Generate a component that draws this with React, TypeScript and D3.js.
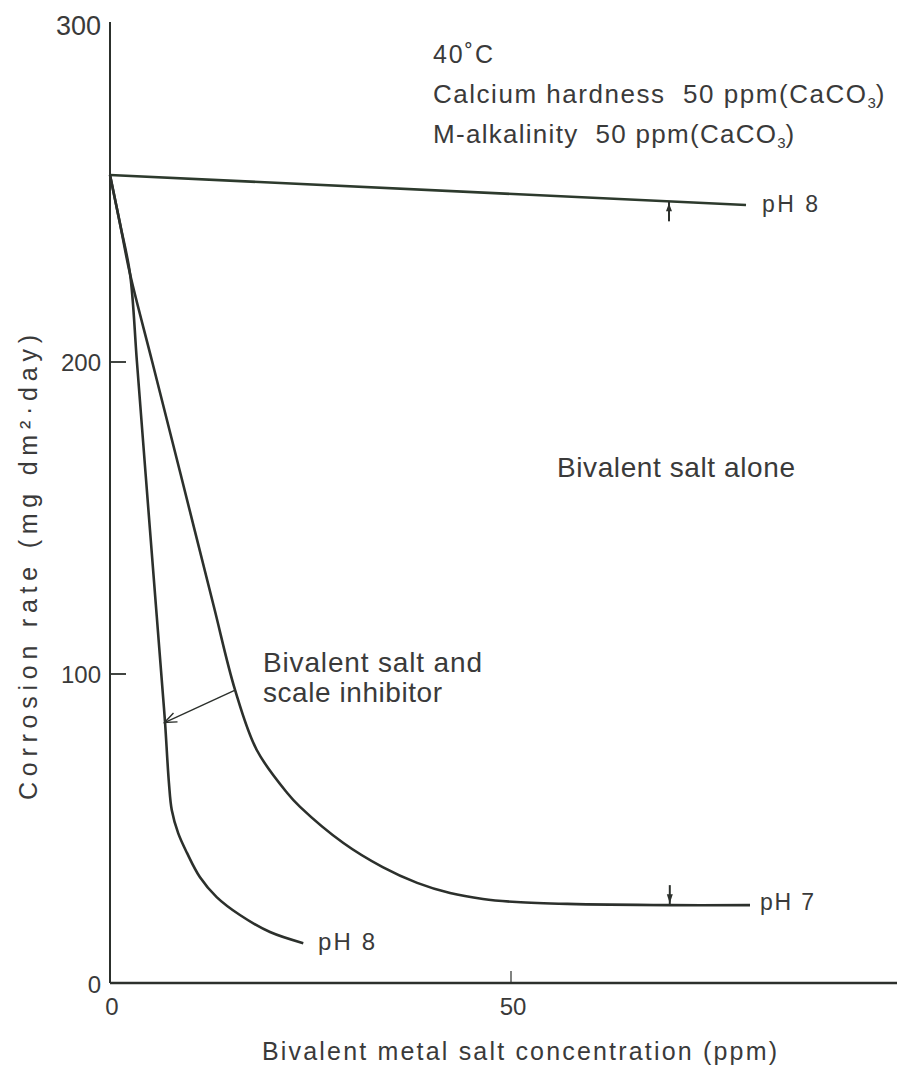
import React from "react";
import * as d3 from "d3";

// ---- data (ppm, mg/dm²·day) ----
const aloneX = [0, 79.3];
const aloneY = [255.5, 246.6];

const ph7X = [0, 1.25, 2.5, 5.24, 8.8, 12.9, 15.6, 18.3, 22.1, 23.7, 29.1, 34.0, 38.3, 42.4, 46.5, 50.7, 57.0, 69.8, 79.8];
const ph7Y = [255.5, 241.0, 226.1, 200.3, 164.1, 122.1, 94.8, 75.4, 61.5, 57.0, 45.3, 37.5, 32.4, 29.1, 27.2, 26.2, 25.6, 25.2, 25.2];

const ph8X = [0, 1.25, 2.5, 3.35, 4.44, 5.72, 6.57, 6.86, 7.35, 7.7, 8.5, 9.6, 11.2, 13.3, 16.2, 19.95, 24.1];
const ph8Y = [255.5, 241.0, 226.1, 200.3, 164.1, 122.1, 94.2, 84.5, 64.7, 56.0, 48.5, 42.1, 34.3, 27.8, 22.0, 16.5, 12.9];

const xTickValues = [0, 50];
const yTickValues = [0, 100, 200, 300];
const yTickMarks = [100, 200];

const conditionLines = ["40˚C", "Calcium hardness  50 ppm(CaCO", "M-alkalinity  50 ppm(CaCO"];

// arrow: from label to steep curve
const arrowFrom = [15.6, 94.8];
const arrowTo = [6.8, 84.3];
const markerTop = 69.7;
const markerPh7 = 69.8;

export default function App() {
  const W = 897, H = 1068;
  const x = d3.scaleLinear().domain([0, 50]).range([110, 511]);
  const y = d3.scaleLinear().domain([0, 100, 200, 300]).range([983, 674, 362, 25]);
  const ink = "#2c302c";
  const txt = "#3a3a3a";
  const font = "'Liberation Sans', Arial, sans-serif";

  const line = d3
    .line<[number, number]>()
    .x((d) => x(d[0]))
    .y((d) => y(d[1]))
    .curve(d3.curveCatmullRom.alpha(0.5));
  const zip = (a: number[], b: number[]) => a.map((v, i) => [v, b[i]] as [number, number]);

  const aloneInterp = d3.scaleLinear().domain(aloneX).range(aloneY);
  const ph7Interp = d3.scaleLinear().domain(ph7X).range(ph7Y);

  const ax = x(arrowFrom[0]), ay = y(arrowFrom[1]);
  const bx = x(arrowTo[0]), by = y(arrowTo[1]);
  const ang = Math.atan2(by - ay, bx - ax);
  const ah = 13, aw = 0.38;
  const p1 = [bx - ah * Math.cos(ang - aw), by - ah * Math.sin(ang - aw)];
  const p2 = [bx - ah * Math.cos(ang + aw), by - ah * Math.sin(ang + aw)];

  const mtX = x(markerTop), mtY = y(aloneInterp(markerTop));
  const m7X = x(markerPh7), m7Y = y(ph7Interp(markerPh7));

  const yLabelBase: Record<number, number> = { 0: 993, 100: 683, 200: 371, 300: 35 };

  return (
    <svg width={W} height={H} style={{ position: "absolute", left: 0, top: 0, background: "#fff" }} fontFamily={font}>
      <rect width={W} height={H} fill="#fff" />
      {/* axes */}
      <line x1={x(0)} x2={x(0)} y1={y(0)} y2={y(300) - 3} stroke={ink} strokeWidth={2} />
      <line x1={x(0)} x2={W} y1={y(0)} y2={y(0)} stroke={ink} strokeWidth={2.4} />
      {yTickMarks.map((t) => (
        <line key={t} x1={x(0)} x2={x(0) + 16} y1={y(t)} y2={y(t)} stroke={ink} strokeWidth={1.8} />
      ))}
      <line x1={x(50)} x2={x(50)} y1={y(0)} y2={y(0) - 12} stroke={ink} strokeWidth={1.2} />
      {yTickValues.map((t) => (
        <text key={t} x={101} y={yLabelBase[t]} textAnchor="end" fontSize={t === 300 ? 27 : 24} fill={txt}>
          {t}
        </text>
      ))}
      {xTickValues.map((t) => (
        <text key={t} x={x(t) + 2} y={1015} textAnchor="middle" fontSize={24} fill={txt}>
          {t}
        </text>
      ))}
      <text x={262} y={1060} fontSize={25} fill={txt} textLength={515} lengthAdjust="spacing">
        Bivalent metal salt concentration (ppm)
      </text>
      <text transform="translate(37,800) rotate(-90)" fontSize={25} fill={txt} textLength={465} lengthAdjust="spacing">
        Corrosion rate (mg dm²·day)
      </text>

      {/* curves */}
      <path d={line(zip(aloneX, aloneY)) || ""} fill="none" stroke="#2d3a2d" strokeWidth={2.6} />
      <path d={line(zip(ph7X, ph7Y)) || ""} fill="none" stroke={ink} strokeWidth={2.6} />
      <path d={line(zip(ph8X, ph8Y)) || ""} fill="none" stroke={ink} strokeWidth={2.6} />

      {/* markers */}
      <line x1={mtX} x2={mtX} y1={mtY} y2={mtY + 20} stroke={ink} strokeWidth={2} />
      <path d={`M${mtX},${mtY + 2} L${mtX - 3},${mtY + 10} L${mtX + 3},${mtY + 10} Z`} fill={ink} />
      <line x1={m7X} x2={m7X} y1={m7Y} y2={m7Y - 20} stroke={ink} strokeWidth={2} />
      <path d={`M${m7X},${m7Y - 2} L${m7X - 3},${m7Y - 11} L${m7X + 3},${m7Y - 11} Z`} fill={ink} />

      {/* arrow */}
      <line x1={ax} y1={ay} x2={bx} y2={by} stroke={ink} strokeWidth={1.4} />
      <path d={`M${p1[0]},${p1[1]} L${bx},${by} L${p2[0]},${p2[1]}`} fill="none" stroke={ink} strokeWidth={1.4} />

      {/* labels */}
      <text x={762} y={212} fontSize={23} fill={txt} textLength={56} lengthAdjust="spacing">pH 8</text>
      <text x={760} y={910} fontSize={23} fill={txt} textLength={54} lengthAdjust="spacing">pH 7</text>
      <text x={318} y={950} fontSize={24} fill={txt} textLength={57} lengthAdjust="spacing">pH 8</text>
      <text x={557} y={477} fontSize={28} fill={txt} textLength={238} lengthAdjust="spacing">Bivalent salt alone</text>
      <text x={263} y={672} fontSize={28} fill={txt} textLength={219} lengthAdjust="spacing">Bivalent salt and</text>
      <text x={263} y={702} fontSize={28} fill={txt} textLength={179} lengthAdjust="spacing">scale inhibitor</text>

      <text x={433} y={63} fontSize={25} fill={txt} textLength={60} lengthAdjust="spacing">{conditionLines[0]}</text>
      <text x={433} y={103} fontSize={26} fill={txt} xmlSpace="preserve">
        <tspan textLength={433} lengthAdjust="spacing">{conditionLines[1]}</tspan>
        <tspan fontSize={15} dy={5}>3</tspan>
        <tspan dy={-5}>)</tspan>
      </text>
      <text x={433} y={143} fontSize={26} fill={txt} xmlSpace="preserve">
        <tspan textLength={343} lengthAdjust="spacing">{conditionLines[2]}</tspan>
        <tspan fontSize={15} dy={5}>3</tspan>
        <tspan dy={-5}>)</tspan>
      </text>
    </svg>
  );
}
